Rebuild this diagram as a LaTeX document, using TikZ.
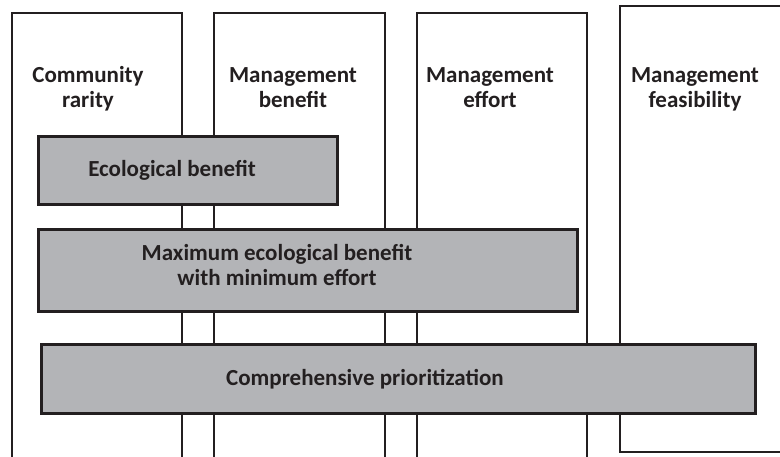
\documentclass[tikz,border=0pt]{standalone}
\usepackage{fontspec}
\setmainfont{Carlito}
\definecolor{edge}{HTML}{231F20}
\definecolor{barfill}{HTML}{B3B4B7}
\definecolor{ink}{HTML}{231F20}
\begin{document}
\begin{tikzpicture}[x=1pt,y=-1pt,
  colbox/.style={draw=edge,line width=2.8pt,fill=white},
  bar/.style={draw=edge,line width=2.8pt,fill=barfill,rectangle,inner sep=0pt},
  label/.style={text=ink,font=\fontsize{23}{25.5}\selectfont\bfseries,align=center,inner sep=0pt,anchor=base}]
\useasboundingbox (0,0) rectangle (780,457);
\clip (0,0) rectangle (780,457);
% criteria columns
\draw[colbox] (12,470) -- (12,13) -- (182,13) -- (182,470);
\draw[colbox] (214,470) -- (214,13) -- (385,13) -- (385,470);
\draw[colbox] (417,470) -- (417,13) -- (587,13) -- (587,470);
\draw[colbox] (800,452) -- (620,452) -- (620,6) -- (800,6);
% column headings (anchored on the baseline of their last line)
\node[label] (c1) at (88,108) {Community\\rarity};
\node[label] (c2) at (293,108) {Management\\benefit};
\node[label] (c3) at (490,108) {Management\\effort};
\node[label] (c4) at (695,108) {Management\\feasibility};
% prioritization levels
\node[bar,anchor=north west,minimum width=299pt,minimum height=68pt] (eco) at (37,135) {};
\node[bar,anchor=north west,minimum width=539pt,minimum height=82pt] (maxeco) at (37,228) {};
\node[bar,anchor=north west,minimum width=714pt,minimum height=69pt] (comp) at (40,343) {};
\node[label] (ecot) at (172,177) {Ecological benefit};
\node[label] (maxecot) at (277,286) {Maximum ecological benefit\\with minimum effort};
\node[label] (compt) at (365,385) {Comprehensive prioritization};
\end{tikzpicture}
\end{document}
